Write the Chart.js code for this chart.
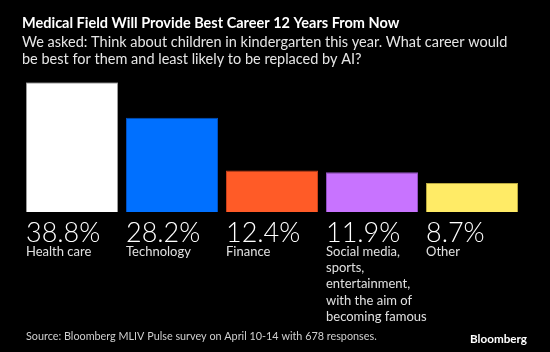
<!DOCTYPE html>
<html>
<head>
<meta charset="utf-8">
<script src="https://cdn.jsdelivr.net/npm/chart.js@4.4.1/dist/chart.umd.min.js"></script>
<style>
  html, body { margin: 0; padding: 0; background: #000; }
  #wrap { width: 550px; height: 352px; }
</style>
</head>
<body>
<div id="wrap"><canvas id="careers"></canvas></div>
<script>
const categories = [
    ['Health care'],
    ['Technology'],
    ['Finance'],
    ['Social media,', 'sports,', 'entertainment,', 'with the aim of', 'becoming famous'],
    ['Other']
];
const shares = [38.8, 28.2, 12.4, 11.9, 8.7];
const barColors = ['#FFFFFF', '#0070FF', '#FF5B27', '#C873FF', '#FFEB66'];
const barEdges = ['#9A9A9A', '#0050C0', '#C8401A', '#9050C0', '#B8A840'];

const titleText = 'Medical Field Will Provide Best Career 12 Years From Now';
const subtitleText = [
    'We asked: Think about children in kindergarten this year. What career would',
    'be best for them and least likely to be replaced by AI?'
];
const sourceText = 'Source: Bloomberg MLIV Pulse survey on April 10-14 with 678 responses.';
const FONT = 'Lato, "Open Sans", sans-serif';

// shrink a font until the text fits the width it has in the original
function fitFont(ctx, text, weight, size, width) {
    ctx.font = weight + ' ' + size + 'px ' + FONT;
    const w = ctx.measureText(text).width;
    if (w > width) {
        ctx.font = weight + ' ' + (size * width / w).toFixed(2) + 'px ' + FONT;
    }
}

// labels under each bar + footer
const underBars = {
    id: 'underBars',
    afterDatasetsDraw(chart) {
        const ctx = chart.ctx;
        const meta = chart.getDatasetMeta(0);
        const bottom = chart.chartArea.bottom;
        ctx.save();
        ctx.textAlign = 'left';
        ctx.textBaseline = 'alphabetic';
        meta.data.forEach((bar, i) => {
            const left = bar.x - bar.width / 2;
            ctx.fillStyle = '#FFFFFF';
            ctx.font = '300 27px ' + FONT;
            ctx.fillText(shares[i].toFixed(1) + '%', left, bottom + 30);
            ctx.fillStyle = '#E0E0E0';
            ctx.font = '13px ' + FONT;
            categories[i].forEach((line, j) => {
                ctx.fillText(line, left, bottom + 44 + j * 16.2);
            });
        });
        ctx.fillStyle = '#CFCFCF';
        fitFont(ctx, sourceText, 'normal', 11.5, 351);
        ctx.fillText(sourceText, 26, 340);
        ctx.fillStyle = '#FFFFFF';
        fitFont(ctx, 'Bloomberg', 'bold', 13, 57);
        ctx.fillText('Bloomberg', 470, 343);
        ctx.restore();
    }
};

new Chart('careers', {
    type: 'bar',
    data: {
        labels: categories.map(c => c.join(' ')),
        datasets: [{
            data: shares,
            backgroundColor: barColors,
            borderColor: barEdges,
            borderWidth: 1,
            barPercentage: 0.92,
            categoryPercentage: 1
        }]
    },
    options: {
        responsive: true,
        maintainAspectRatio: false,
        animation: false,
        layout: { padding: { left: 22, right: 28, top: 0, bottom: 140 } },
        scales: {
            x: { display: false },
            y: { display: false, min: 0, max: Math.max(...shares) }
        },
        plugins: {
            legend: { display: false },
            tooltip: { enabled: false },
            title: {
                display: true,
                text: titleText,
                align: 'start',
                color: '#FFFFFF',
                font: { family: FONT, size: 14.5, weight: 'bold', lineHeight: 1.2 },
                padding: { top: 15, bottom: 1 }
            },
            subtitle: {
                display: true,
                text: subtitleText,
                align: 'start',
                color: '#E6E6E6',
                font: { family: FONT, size: 14.5, lineHeight: 1.2 },
                padding: { top: 0, bottom: 14 }
            }
        }
    },
    plugins: [underBars]
});
</script>
</body>
</html>
